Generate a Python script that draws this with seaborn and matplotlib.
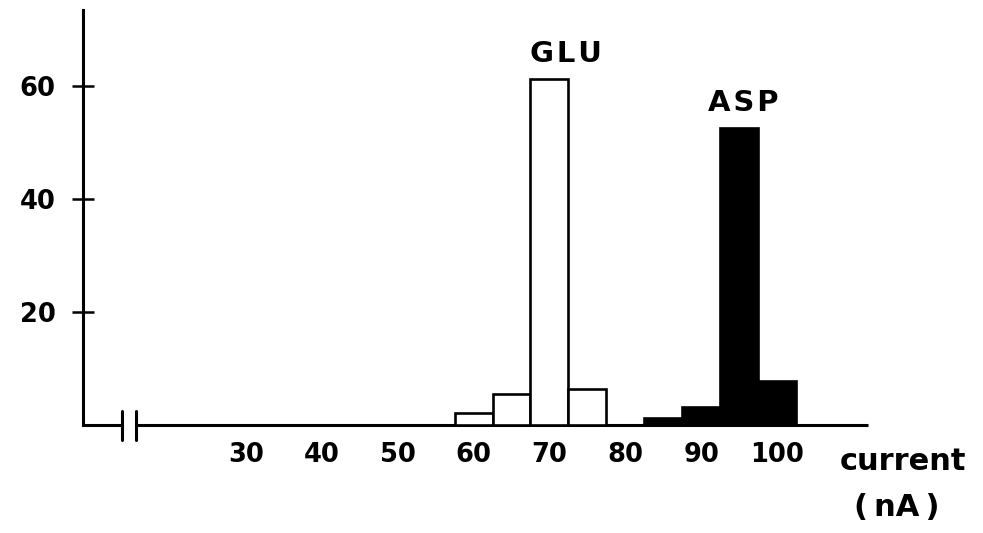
import matplotlib
matplotlib.use("Agg")
import matplotlib.pyplot as plt
import seaborn as sns
import pandas as pd

# ---- data ----
glu_current = [60, 65, 70, 75]
glu_counts = [2.1, 5.5, 61.2, 6.4]
asp_current = [85, 90, 95, 100]
asp_counts = [1.2, 3.2, 52.6, 7.8]
x_ticks = [30, 40, 50, 60, 70, 80, 90, 100]
y_ticks = [20, 40, 60]

df = pd.DataFrame({
    "current": glu_current + asp_current,
    "count": glu_counts + asp_counts,
    "amino": ["GLU"] * len(glu_current) + ["ASP"] * len(asp_current),
})

sns.set_style("white")
plt.rcParams["font.family"] = ["DejaVu Sans"]
plt.rcParams["font.weight"] = "bold"
plt.rcParams["text.color"] = "black"

W, H = 983, 533
fig = plt.figure(figsize=(W / 100, H / 100), dpi=100)
ax_l, ax_r, ax_b, ax_t = 83, 868, 425, 10
ax = fig.add_axes([ax_l / W, (H - ax_b) / H, (ax_r - ax_l) / W, (ax_b - ax_t) / H])

sns.barplot(data=df, x="current", y="count", hue="amino",
            hue_order=["GLU", "ASP"],
            palette={"GLU": "white", "ASP": "black"},
            native_scale=True, dodge=False, width=1, saturation=1,
            errorbar=None, edgecolor="black", linewidth=1.9,
            legend=False, ax=ax, zorder=3)

xmin, xmax = 8.51, 112.0
ax.set_xlim(xmin, xmax)
ax.set_ylim(0, 73.45)

# axes styling
for s in ["top", "right", "bottom"]:
    ax.spines[s].set_visible(False)
ax.spines["left"].set_linewidth(2.2)
ax.spines["left"].set_color("black")

# x axis drawn with a break
brk1, brk2 = 13.65, 15.5
ax.plot([xmin, brk1], [0, 0], color="black", lw=2.2, clip_on=False, zorder=2,
        solid_capstyle="butt")
ax.plot([brk2, xmax], [0, 0], color="black", lw=2.2, clip_on=False, zorder=2,
        solid_capstyle="butt")
for bx in (brk1, brk2):
    ax.plot([bx, bx], [2.5, -2.65], color="black", lw=2.2, clip_on=False, zorder=2)

ax.set_xticks(x_ticks)
ax.set_xticklabels([str(v) for v in x_ticks])
ax.set_yticks(y_ticks)
ax.set_yticklabels([str(v) for v in y_ticks])
ax.tick_params(axis="x", length=0, pad=12.5, labelsize=18.5, labelcolor="black")
ax.tick_params(axis="y", direction="inout", length=16.5, width=1.8, pad=11.5,
               labelsize=18.5, labelcolor="black", color="black", left=True)
for lab in ax.get_xticklabels() + ax.get_yticklabels():
    lab.set_fontweight("bold")
ax.set_xlabel("")
ax.set_ylabel("")

# peak labels
ax.annotate("G\u200aL\u200aU", xy=(glu_current[2], glu_counts[2]),
            xytext=(12, 18), textcoords="offset points", color="black",
            ha="center", va="center", fontsize=21, fontweight="bold")
ax.annotate("A\u200aS\u200aP", xy=(asp_current[2], asp_counts[2]),
            xytext=(3, 18), textcoords="offset points", color="black",
            ha="center", va="center", fontsize=21, fontweight="bold")

# axis unit label
fig.text(840 / W, (H - 462) / H, "current", ha="left", va="center",
         fontsize=22, fontweight="bold", color="black")
fig.text(897 / W, (H - 507) / H, "(\u2009nA\u2009)", ha="center", va="center",
         fontsize=22, fontweight="bold", color="black")

fig.savefig("out.png", dpi=100, facecolor="white")
